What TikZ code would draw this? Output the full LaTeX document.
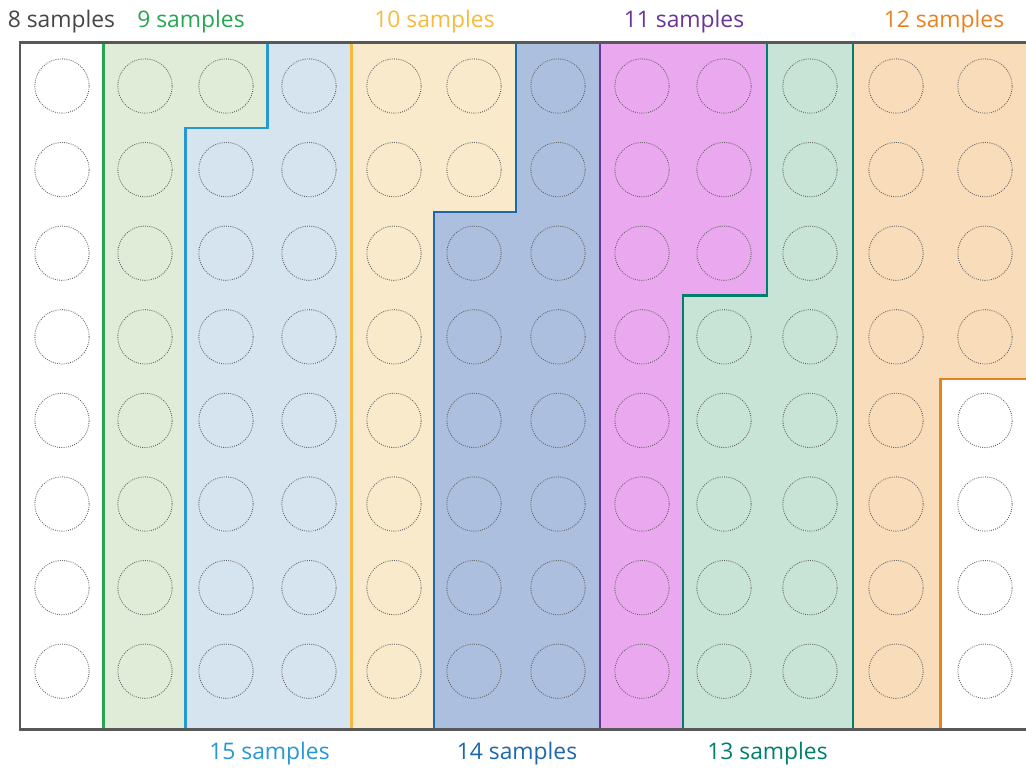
\documentclass[tikz,border=0pt]{standalone}
\usepackage{fontspec}
\setmainfont{Open Sans}
\usepackage{tikz}
\definecolor{mydark}{RGB}{70,70,70}
\definecolor{myplate}{RGB}{88,88,88}
\definecolor{mydot}{RGB}{95,95,95}
\definecolor{mygreen}{RGB}{38,166,82}
\definecolor{mysky}{RGB}{38,152,212}
\definecolor{myyellow}{RGB}{247,186,60}
\definecolor{myblue}{RGB}{28,104,172}
\definecolor{mypurple}{RGB}{104,52,150}
\definecolor{myteal}{RGB}{0,128,108}
\definecolor{myorange}{RGB}{232,130,30}
\definecolor{hdrgreen}{RGB}{224,236,216}
\definecolor{hdrsky}{RGB}{214,228,240}
\definecolor{hdryellow}{RGB}{248,234,202}
\definecolor{hdrblue}{RGB}{172,191,222}
\definecolor{hdrpurple}{RGB}{234,168,238}
\definecolor{hdrteal}{RGB}{200,228,214}
\definecolor{hdrorange}{RGB}{249,220,186}
\tikzset{
  well/.style={circle, draw=mydot, inner sep=0pt, minimum size=1.088cm,
    line width=0.5pt, dash pattern=on 0.5pt off 0.75pt},
  region/.style={line width=1.4pt, line join=miter},
  plate/.style={draw=myplate, line width=1.7pt},
  tag/.style={anchor=base, inner sep=0pt, font=\fontsize{13}{15}\selectfont}
}

\begin{document}
\begin{tikzpicture}[x=0.02cm, y=-0.02cm]
  \useasboundingbox (0,0) rectangle (1026,768);
  \clip (0,0) rectangle (1026,768);
  % sample groups
  \draw[region, draw=mygreen, fill=hdrgreen] (103.5,42.5) -- (267.5,42.5) -- (267.5,128)
    -- (185.5,128) -- (185.5,729) -- (103.5,729) -- cycle;
  \draw[region, draw=mysky, fill=hdrsky] (267.5,42.5) -- (351.5,42.5) -- (351.5,729)
    -- (185.5,729) -- (185.5,128) -- (267.5,128) -- cycle;
  \draw[region, draw=myyellow, fill=hdryellow] (351.5,42.5) -- (516,42.5) -- (516,212)
    -- (434,212) -- (434,729) -- (351.5,729) -- cycle;
  \draw[region, draw=myblue, fill=hdrblue] (516,42.5) -- (600,42.5) -- (600,729)
    -- (434,729) -- (434,212) -- (516,212) -- cycle;
  \draw[region, draw=mypurple, fill=hdrpurple] (600,42.5) -- (767,42.5) -- (767,295.5)
    -- (683,295.5) -- (683,729) -- (600,729) -- cycle;
  \draw[region, draw=myorange, fill=hdrorange] (853,42.5) -- (1040,42.5) -- (1040,379)
    -- (940.5,379) -- (940.5,729) -- (853,729) -- cycle;
  \draw[region, draw=myteal, fill=hdrteal] (767,42.5) -- (853,42.5) -- (853,729)
    -- (683,729) -- (683,295.5) -- (767,295.5) -- cycle;
  % wells
  \foreach \cx [count=\c] in {62,145,226,309,394,474,558,642,724,810,896,985}
    \foreach \r in {1,...,8}
      \node[well] (w\r-\c) at (\cx,{86+83.6*(\r-1)}) {};
  \draw[plate] (20,42.5) rectangle (1040,729);
  % labels
  \node[tag, text=mydark] (n8) at (61.5,27.7) {8 samples};
  \node[tag, text=mygreen] (n9) at (191,27.7) {9 samples};
  \node[tag, text=myyellow] (n10) at (434.5,27.7) {10 samples};
  \node[tag, text=mypurple] (n11) at (684,27.7) {11 samples};
  \node[tag, text=myorange] (n12) at (944,27.7) {12 samples};
  \node[tag, text=mysky] (n15) at (269.5,759) {15 samples};
  \node[tag, text=myblue] (n14) at (517,759) {14 samples};
  \node[tag, text=myteal] (n13) at (767.5,759) {13 samples};
\end{tikzpicture}
\end{document}
